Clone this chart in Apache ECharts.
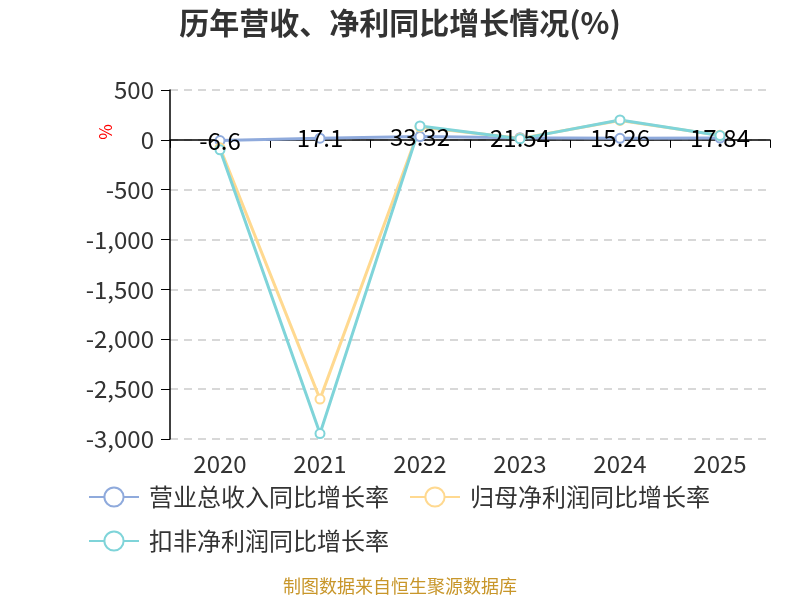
<!DOCTYPE html>
<html><head><meta charset="utf-8">
<script src="https://cdn.jsdelivr.net/npm/echarts@6/dist/echarts.min.js"></script>
<style>html,body{margin:0;padding:0;background:#fff}#c{width:800px;height:600px}</style>
</head><body><div id="c"></div>
<script>
var categories = ['2020','2021','2022','2023','2024','2025'];
var revenueGrowth = [-6.6, 17.1, 33.32, 21.54, 15.26, 17.84];
var netProfitGrowth = [-80, -2600, 130, 15, 195, 45];
var deductedProfitGrowth = [-100, -2945, 140, 10, 200, 43];
var seriesNames = ['营业总收入同比增长率','归母净利润同比增长率','扣非净利润同比增长率'];
var colors = ['#8FAADC','#FFD990','#7FD4D9'];

var chart = echarts.init(document.getElementById('c'));
var font = '"Microsoft YaHei","Noto Sans CJK SC",sans-serif';
function mk(name, data, color, label) {
  return {
    name: name, type: 'line', data: data,
    symbol: 'emptyCircle', symbolSize: 9,
    lineStyle: {width: 3, color: color},
    itemStyle: {color: color},
    label: label ? {show: true, position: 'inside', color: '#000', fontSize: 24, fontFamily: font} : {show: false}
  };
}
chart.setOption({
  animation: false,
  color: colors,
  title: {text: '历年营收、净利同比增长情况(%)', left: 'center', top: 3,
    textStyle: {fontSize: 30, fontWeight: 'bold', color: '#333', fontFamily: font}},
  grid: {left: 170, right: 30, top: 90, bottom: 161},
  legend: {
    left: 83, top: 480, width: 700, itemWidth: 50, itemHeight: 24, itemGap: 20,
    textStyle: {fontSize: 24, color: '#333', fontFamily: font, padding: [0, 0, 0, 5]},
    data: seriesNames
  },
  xAxis: {
    type: 'category', data: categories, boundaryGap: true,
    axisLine: {onZero: true, lineStyle: {color: '#000', width: 1.5}},
    axisTick: {show: true, lineStyle: {color: '#000'}, length: 8},
    axisLabel: {fontSize: 24, color: '#333', fontFamily: font, margin: 13, interval: 0},
    position: 'bottom'
  },
  yAxis: {
    type: 'value', min: -3000, max: 500, interval: 500,
    axisLine: {show: true, lineStyle: {color: '#000', width: 1.5}},
    axisTick: {show: true, lineStyle: {color: '#000'}, length: 9},
    axisLabel: {fontSize: 24, color: '#333', fontFamily: font, margin: 16},
    splitLine: {lineStyle: {type: [8, 6], color: '#ccc', width: 1.5}}
  },
  graphic: [
    {type: 'text', left: 97, top: 124, rotation: Math.PI / 2,
      style: {text: '%', fill: '#f00', fontSize: 17, fontFamily: font}},
    {type: 'text', left: 'center', top: 577,
      style: {text: '制图数据来自恒生聚源数据库', fill: '#C8962A', fontSize: 18, fontFamily: font}}
  ],
  series: [
    mk(seriesNames[0], revenueGrowth, colors[0], true),
    mk(seriesNames[1], netProfitGrowth, colors[1], false),
    mk(seriesNames[2], deductedProfitGrowth, colors[2], false)
  ]
});
</script></body></html>
